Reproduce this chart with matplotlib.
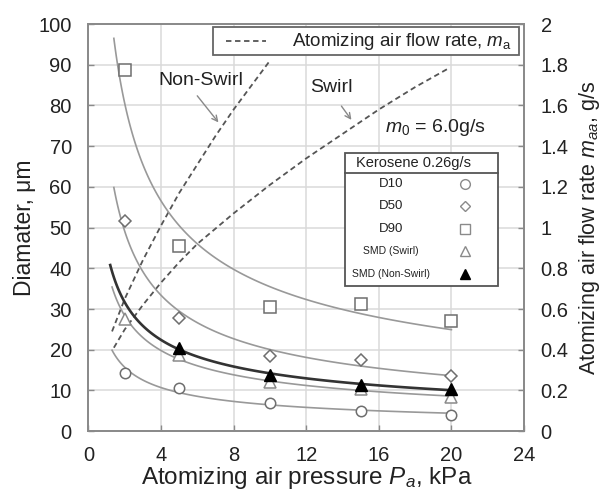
import numpy as np
import matplotlib
matplotlib.use("Agg")
import matplotlib.pyplot as plt
from matplotlib.patches import Rectangle

plt.rcParams['font.family'] = ['Liberation Sans', 'DejaVu Sans']
plt.rcParams['mathtext.fontset'] = 'custom'
plt.rcParams['mathtext.rm'] = 'Liberation Sans'
plt.rcParams['mathtext.it'] = 'Liberation Sans:italic'

# ---- data ----
pressure = [2, 5, 10, 15, 20]
d10 = [14.3, 10.7, 7.0, 5.0, 4.1]
d50 = [51.5, 27.8, 18.5, 17.6, 13.6]
d90 = [88.8, 45.5, 30.5, 31.2, 27.0]
smd_swirl = [27.6, 18.6, 12.0, 10.3, 8.4]
pressure_ns = [5, 10, 15, 20]
smd_nonswirl = [20.4, 13.9, 11.3, 10.4]

# trend-curve start pressures
fit_start = {'d10': 1.3, 'd50': 1.4, 'd90': 1.4, 'sw': 1.3, 'ns': 1.2}
fit_end = 20

# atomizing air flow rate (right axis)
flow_ns_p = [1.3, 2, 3, 4, 5, 6, 7, 8, 9, 10]
flow_ns = [0.49, 0.65, 0.84, 1.01, 1.17, 1.31, 1.45, 1.58, 1.70, 1.82]
flow_sw_p = [1.4, 2, 3, 4, 5, 6, 8, 10, 12, 14, 16, 18, 19.8]
flow_sw = [0.41, 0.50, 0.62, 0.73, 0.83, 0.92, 1.07, 1.21, 1.34, 1.46, 1.58, 1.69, 1.78]

xticks = [0, 4, 8, 12, 16, 20, 24]
yticks = [0, 10, 20, 30, 40, 50, 60, 70, 80, 90, 100]
y2ticks = [0, 0.2, 0.4, 0.6, 0.8, 1.0, 1.2, 1.4, 1.6, 1.8, 2.0]
y2labels = ['0', '0.2', '0.4', '0.6', '0.8', '1', '1.2', '1.4', '1.6', '1.8', '2']

fig = plt.figure(figsize=(6.1, 4.9), dpi=100)
ax = fig.add_axes([0.145, 0.120, 0.714, 0.831])
ax2 = ax.twinx()
ax.set_zorder(ax2.get_zorder() + 1)
ax.patch.set_visible(False)

grid_c = '#dadada'
spine_c = '#8a8a8a'
line_c = '#999999'
mk_c = '#6e6e6e'
txt_c = '#222222'

def power_curve(x, y, x0):
    b, la = np.polyfit(np.log(x), np.log(y), 1)
    xs = np.geomspace(x0, fit_end, 120)
    return xs, np.exp(la) * xs ** b

# trend curves
for key, xv, yv in [('d90', pressure, d90), ('d50', pressure, d50),
                    ('sw', pressure, smd_swirl), ('d10', pressure, d10)]:
    xs, ys = power_curve(xv, yv, fit_start[key])
    ax.plot(xs, ys, color=line_c, lw=1.2, zorder=3)
xs, ys = power_curve(pressure_ns, smd_nonswirl, fit_start['ns'])
ax.plot(xs, ys, color='#333333', lw=1.9, zorder=4)

# markers
ax.plot(pressure, d10, 'o', mfc='white', mec=mk_c, ms=7.5, mew=1.1, zorder=5)
ax.plot(pressure, d50, 'D', mfc='white', mec=mk_c, ms=6, mew=1.1, zorder=5)
ax.plot(pressure, d90, 's', mfc='white', mec=mk_c, ms=8, mew=1.1, zorder=5)
ax.plot(pressure, smd_swirl, '^', mfc='white', mec='#8a8a8a', ms=8, mew=1.1, zorder=5)
ax.plot(pressure_ns, smd_nonswirl, '^', mfc='black', mec='black', ms=8, zorder=6)

# dashed flow curves on right axis
ax2.plot(flow_ns_p, flow_ns, ls=(0, (3, 2)), color='#555555', lw=1.3)
ax2.plot(flow_sw_p, flow_sw, ls=(0, (3, 2)), color='#555555', lw=1.3)

ax.set_xlim(0, 24)
ax.set_ylim(0, 100)
ax2.set_ylim(0, 2)
ax.set_xticks(xticks)
ax.set_yticks(yticks)
ax2.set_yticks(y2ticks)
ax2.set_yticklabels(y2labels)
ax2.grid(False)
for a in (ax, ax2):
    for s in a.spines.values():
        s.set_color(spine_c)
        s.set_linewidth(1.3)
ax.tick_params(axis='both', labelsize=14.5, direction='in', length=4, width=1.0,
               color=spine_c, labelcolor=txt_c)
ax.tick_params(axis='y', pad=12)
ax.tick_params(axis='x', pad=11)
ax2.tick_params(axis='y', labelsize=14.5, direction='in', length=4, width=1.0,
                color=spine_c, labelcolor=txt_c, pad=12)
# grid on ax2 (behind)
for xv in xticks[1:-1]:
    ax2.axvline(xv, color=grid_c, lw=1.1, zorder=0)
for yv in y2ticks[1:-1]:
    ax2.axhline(yv, color=grid_c, lw=1.1, zorder=0)

ax.set_xlabel(r'Atomizing air pressure $P_a$, kPa', fontsize=17.5, labelpad=0, color=txt_c)
ax.set_ylabel(u'Diamater, \u03bcm', fontsize=16.5, labelpad=2, color=txt_c)
ax2.set_ylabel(r'Atomizing air flow rate $m_{aa}$, g/s', fontsize=15.5, labelpad=6, color=txt_c)

# annotations
ax.text(6.2, 86.2, 'Non-Swirl', fontsize=14, ha='center', va='center', color=txt_c)
ax.annotate('', xy=(7.26, 75.3), xytext=(5.9, 82.9),
            arrowprops=dict(arrowstyle='->', color='#888888', lw=1.0))
ax.text(13.4, 84.3, 'Swirl', fontsize=14, ha='center', va='center', color=txt_c)
ax.annotate('', xy=(14.58, 75.9), xytext=(13.85, 80.4),
            arrowprops=dict(arrowstyle='->', color='#888888', lw=1.0))
ax.text(16.35, 74.7, r'$m_0$ = 6.0g/s', fontsize=14, ha='left', va='center', color=txt_c)

# top legend box (axes coords)
tr = ax.transAxes
def ax_x(px):
    return (px - 88.3) / (524.0 - 88.3)
def ax_y(py):
    return (431.0 - py) / (431.0 - 24.0)

ax.add_patch(Rectangle((ax_x(213), ax_y(55)), ax_x(519) - ax_x(213), ax_y(27) - ax_y(55),
                       transform=tr, facecolor='white', edgecolor='#666666', lw=1.3, zorder=7))
ax.plot([ax_x(226), ax_x(266)], [ax_y(41), ax_y(41)], transform=tr, ls=(0, (3, 2)),
        color='#555555', lw=1.3, zorder=8)
ax.text(ax_x(512), ax_y(41), r'Atomizing air flow rate, $m_{\rm a}$', transform=tr,
        fontsize=13.5, ha='right', va='center', zorder=8, color=txt_c)

# kerosene legend box
ax.add_patch(Rectangle((ax_x(345), ax_y(286)), ax_x(498) - ax_x(345), ax_y(153) - ax_y(286),
                       transform=tr, facecolor='white', edgecolor='#555555', lw=1.3, zorder=7))
ax.plot([ax_x(345), ax_x(498)], [ax_y(173), ax_y(173)], transform=tr,
        color='#555555', lw=1.3, zorder=8)
ax.text(ax_x(413), ax_y(163), 'Kerosene 0.26g/s', transform=tr, fontsize=10.5,
        ha='center', va='center', zorder=8, color=txt_c)
leg_rows = [('D10', 'o', 'white', '#8a8a8a', 9.5, 184),
            ('D50', 'D', 'white', '#8a8a8a', 9.5, 206),
            ('D90', 's', 'white', '#8a8a8a', 9.5, 229),
            ('SMD (Swirl)', '^', 'white', '#8a8a8a', 7.5, 251),
            ('SMD (Non-Swirl)', '^', 'black', 'black', 7.5, 274)]
for lab, mk, fc, ec, fs, py in leg_rows:
    ax.text(ax_x(391), ax_y(py), lab, transform=tr, fontsize=fs, ha='center', va='center',
            zorder=8, color=txt_c)
    msz = 5.5 if mk == 'D' else 7
    ax.plot([ax_x(465)], [ax_y(py)], mk, transform=tr, mfc=fc, mec=ec, ms=msz, mew=1.0,
            zorder=9, clip_on=False)

fig.savefig('out.png', dpi=100)
